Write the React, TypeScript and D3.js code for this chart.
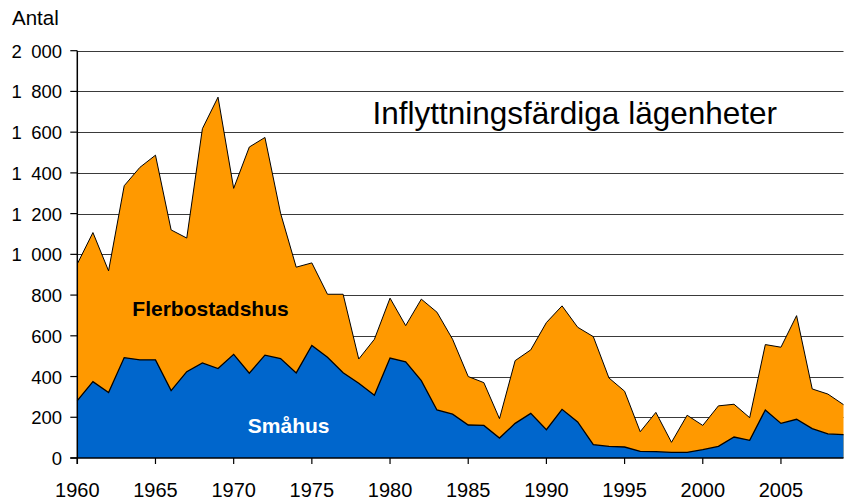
import { useEffect, useRef } from 'react';
import * as d3 from 'd3';

const years = d3.range(1960, 2010);

// Småhus (bottom layer)
const smahus = [
  282, 375, 321, 493, 482, 482, 331, 424, 467, 439,
  509, 416, 505, 488, 418, 553, 495, 419, 367, 308,
  491, 472, 380, 236, 215, 162, 160, 98, 170, 219,
  139, 239, 177, 66, 57, 54, 33, 31, 28, 28,
  41, 57, 103, 87, 236, 170, 190, 144, 118, 115,
];

// Total (Småhus + Flerbostadshus)
const total = [
  953, 1107, 919, 1337, 1427, 1487, 1120, 1080, 1617, 1772,
  1324, 1527, 1574, 1202, 937, 958, 804, 804, 486, 583,
  785, 650, 780, 716, 583, 400, 370, 193, 478, 531,
  665, 747, 642, 596, 393, 328, 129, 224, 77, 210,
  160, 256, 264, 198, 557, 544, 699, 339, 314, 262,
];

const yTicks = [0, 200, 400, 600, 800, 1000, 1200, 1400, 1600, 1800, 2000];
const xTicks = [1960, 1965, 1970, 1975, 1980, 1985, 1990, 1995, 2000, 2005];

const title = 'Inflyttningsfärdiga lägenheter';
const yLabel = 'Antal';

export default function App() {
  const ref = useRef<SVGSVGElement>(null);

  useEffect(() => {
    if (!ref.current) return;
    const svg = d3.select(ref.current);
    svg.selectAll('*').remove();

    const left = 77.3;
    const right = 843.5;
    const top = 50.7;
    const bottom = 458;
    const font = '"Liberation Sans", Arial, sans-serif';

    const x = d3.scaleLinear().domain([1960, 2009]).range([left, right]);
    const y = d3.scaleLinear().domain([0, 2000]).range([bottom, top]);

    const rows = years.map((yr, i) => ({ yr, s: smahus[i], t: total[i] }));

    // gridlines
    svg
      .append('g')
      .selectAll('line')
      .data(yTicks.filter((d) => d > 0))
      .join('line')
      .attr('x1', left)
      .attr('x2', right)
      .attr('y1', (d) => Math.round(y(d)) + 0.5)
      .attr('y2', (d) => Math.round(y(d)) + 0.5)
      .attr('stroke', '#3a3a3a')
      .attr('stroke-width', 1.2);

    const totalArea = d3
      .area<any>()
      .x((d) => x(d.yr))
      .y0(bottom)
      .y1((d) => y(d.t));
    const smaArea = d3
      .area<any>()
      .x((d) => x(d.yr))
      .y0(bottom)
      .y1((d) => y(d.s));

    svg.append('path').datum(rows).attr('fill', '#ff9900').attr('d', totalArea);
    svg.append('path').datum(rows).attr('fill', '#0066cc').attr('d', smaArea);

    const line = (k: 's' | 't') =>
      d3
        .line<any>()
        .x((d) => x(d.yr))
        .y((d) => y(d[k]));
    svg.append('path').datum(rows).attr('fill', 'none').attr('stroke', '#000').attr('stroke-width', 1).attr('d', line('t'));
    svg.append('path').datum(rows).attr('fill', 'none').attr('stroke', '#000').attr('stroke-width', 1.3).attr('d', line('s'));

    // axes
    svg.append('line').attr('x1', left).attr('x2', left).attr('y1', top).attr('y2', bottom + 6).attr('stroke', '#000').attr('stroke-width', 1.5);
    svg.append('line').attr('x1', left - 7).attr('x2', right).attr('y1', bottom).attr('y2', bottom).attr('stroke', '#000').attr('stroke-width', 1.5);

    svg
      .append('g')
      .selectAll('line')
      .data(yTicks)
      .join('line')
      .attr('x1', left - 7)
      .attr('x2', left)
      .attr('y1', (d) => y(d))
      .attr('y2', (d) => y(d))
      .attr('stroke', '#000')
      .attr('stroke-width', 1.2);

    svg
      .append('g')
      .selectAll('line')
      .data(xTicks)
      .join('line')
      .attr('x1', (d) => x(d))
      .attr('x2', (d) => x(d))
      .attr('y1', bottom)
      .attr('y2', bottom + 6)
      .attr('stroke', '#000')
      .attr('stroke-width', 1.2);

    const fmt = (v: number) => d3.format(',')(v).replace(',', '\u2002');

    svg
      .append('g')
      .selectAll('text')
      .data(yTicks)
      .join('text')
      .attr('x', 62)
      .attr('y', (d) => y(d) + 7)
      .attr('text-anchor', 'end')
      .attr('font-family', font)
      .attr('font-size', 18.5)
      .attr('fill', '#000')
      .text((d) => fmt(d));

    svg
      .append('g')
      .selectAll('text')
      .data(xTicks)
      .join('text')
      .attr('x', (d) => x(d))
      .attr('y', 496.5)
      .attr('text-anchor', 'middle')
      .attr('font-family', font)
      .attr('font-size', 20)
      .attr('fill', '#000')
      .text((d) => d);

    svg.append('text').attr('x', 12).attr('y', 25).attr('font-family', font).attr('font-size', 20.5).text(yLabel);

    svg.append('text').attr('x', 372.5).attr('y', 124.3).attr('font-family', font).attr('font-size', 31.5).text(title);

    svg
      .append('text')
      .attr('x', 210.5)
      .attr('y', 315.7)
      .attr('text-anchor', 'middle')
      .attr('font-family', font)
      .attr('font-weight', 'bold')
      .attr('font-size', 21)
      .attr('fill', '#000')
      .text('Flerbostadshus');

    svg
      .append('text')
      .attr('x', 288.7)
      .attr('y', 433.3)
      .attr('text-anchor', 'middle')
      .attr('font-family', font)
      .attr('font-weight', 'bold')
      .attr('font-size', 21)
      .attr('fill', '#fff')
      .text('Småhus');
  }, []);

  return <svg ref={ref} width={844} height={499} style={{ position: 'absolute', left: 0, top: 0, background: '#fff' }} />;
}
